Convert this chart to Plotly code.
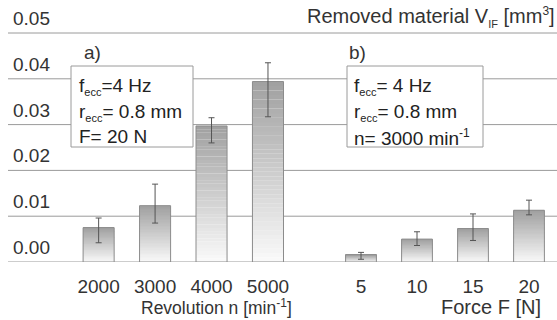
import plotly.graph_objects as go

# ---- data ----
rev_labels = ["2000", "3000", "4000", "5000"]
rev_values = [0.0075, 0.0123, 0.0297, 0.0394]
rev_err_plus = [0.0021, 0.0047, 0.0018, 0.0041]
rev_err_minus = [0.0033, 0.0038, 0.0037, 0.0077]

force_labels = ["5", "10", "15", "20"]
force_values = [0.0016, 0.0050, 0.0073, 0.0113]
force_err_plus = [0.0005, 0.0016, 0.0032, 0.0022]
force_err_minus = [0.0010, 0.0014, 0.0026, 0.0010]

y_ticks = [0.00, 0.01, 0.02, 0.03, 0.04, 0.05]

FONT = "Liberation Sans, Arial, sans-serif"
TXT = "#333333"

W, H = 557, 320
ML, MB = 0, 58
PH = H - MB  # plot height in px


def px_x(x):
    return x / W


def px_y(y):
    return (PH - y) / PH


def sub(s):
    return '<sub><span style="font-size:11px">%s</span></sub>' % s


def sup(s):
    return '<sup><span style="font-size:12px">%s</span></sup>' % s


fig = go.Figure()

N = 40
top_rgb = (160, 160, 160)
bot_rgb = (250, 250, 250)


def add_series(labels, values, ep, em, xa):
    for i in range(N):
        t = (i + 0.5) / N
        c = tuple(int(round(bot_rgb[k] + (top_rgb[k] - bot_rgb[k]) * t)) for k in range(3))
        fig.add_trace(go.Bar(
            x=labels, y=[v / N * 1.02 for v in values], base=[v * i / N for v in values],
            marker=dict(color="rgb(%d,%d,%d)" % c, line=dict(width=0)),
            xaxis=xa, yaxis="y", showlegend=False, hoverinfo="skip"))
    fig.add_trace(go.Bar(
        x=labels, y=values,
        marker=dict(color="rgba(0,0,0,0)", line=dict(color="#8c8c8c", width=1)),
        error_y=dict(type="data", symmetric=False, array=ep, arrayminus=em,
                     color="#555555", thickness=1, width=3),
        xaxis=xa, yaxis="y", showlegend=False))


add_series(rev_labels, rev_values, rev_err_plus, rev_err_minus, "x")
add_series(force_labels, force_values, force_err_plus, force_err_minus, "x2")

shapes = []
for v in y_ticks:
    shapes.append(dict(type="line", xref="paper", yref="y", x0=px_x(8), x1=1, y0=v, y1=v,
                       line=dict(color="#9a9a9a", width=1), layer="below"))
# legend boxes
for (x0, x1) in [(71, 193), (347, 483)]:
    shapes.append(dict(type="rect", xref="paper", yref="paper", x0=px_x(x0), x1=px_x(x1),
                       y0=px_y(147), y1=px_y(66), fillcolor="white",
                       line=dict(color="#9a9a9a", width=1), layer="above"))

ann = []
for v in y_ticks:
    ann.append(dict(xref="paper", yref="y", x=px_x(11), y=v, xanchor="left", yanchor="bottom",
                    text="%.2f" % v, showarrow=False, yshift=2,
                    font=dict(size=19, color=TXT, family=FONT)))

ann.append(dict(xref="paper", yref="paper", x=px_x(294), y=px_y(307), xanchor="right", yanchor="middle",
                text="Revolution n [min" + sup("-1") + "]", showarrow=False,
                font=dict(size=17.5, color=TXT, family=FONT)))
ann.append(dict(xref="paper", yref="paper", x=px_x(543), y=px_y(307), xanchor="right", yanchor="middle",
                text="Force F [N]", showarrow=False,
                font=dict(size=20, color=TXT, family=FONT)))
ann.append(dict(xref="paper", yref="paper", x=px_x(557), y=px_y(17), xanchor="right", yanchor="middle",
                text="Removed material V" + sub("IF") + " [mm" + sup("3") + "]", showarrow=False,
                font=dict(size=20, color=TXT, family=FONT)))
ann.append(dict(xref="paper", yref="paper", x=px_x(82), y=px_y(52), xanchor="left", yanchor="middle",
                text="a)", showarrow=False, font=dict(size=19, color=TXT, family=FONT)))
ann.append(dict(xref="paper", yref="paper", x=px_x(347), y=px_y(52), xanchor="left", yanchor="middle",
                text="b)", showarrow=False, font=dict(size=19, color=TXT, family=FONT)))

box_a = ["f" + sub("ecc") + "=4 Hz", "r" + sub("ecc") + "= 0.8 mm", "F= 20 N"]
box_b = ["f" + sub("ecc") + "= 4 Hz", "r" + sub("ecc") + "= 0.8 mm", "n= 3000 min" + sup("-1")]
for lines, x0 in [(box_a, 77), (box_b, 352)]:
    for j, (line, yc) in enumerate(zip(lines, [82, 108, 133])):
        ann.append(dict(xref="paper", yref="paper", x=px_x(x0), y=px_y(yc - 9), xanchor="left",
                        yanchor="top", text=line, showarrow=False,
                        font=dict(size=19, color="#222222", family=FONT)))

fig.update_layout(
    width=W, height=H, margin=dict(l=ML, r=0, t=0, b=MB),
    paper_bgcolor="white", plot_bgcolor="white",
    barmode="overlay", bargap=0.45,
    shapes=shapes, annotations=ann,
    xaxis=dict(domain=[px_x(70.4), px_x(296.2)], anchor="y", showgrid=False, showline=False,
               zeroline=False, ticks="", tickfont=dict(size=19, color=TXT, family=FONT),
               ticklabelstandoff=11, fixedrange=True),
    xaxis2=dict(domain=[px_x(333), 1.0], anchor="y", showgrid=False, showline=False,
                zeroline=False, ticks="", tickfont=dict(size=19, color=TXT, family=FONT),
                ticklabelstandoff=11, fixedrange=True),
    yaxis=dict(range=[0, PH / 4580.0], showgrid=False, showticklabels=False, zeroline=False,
               showline=False, fixedrange=True),
)

fig.write_html("out.html")
